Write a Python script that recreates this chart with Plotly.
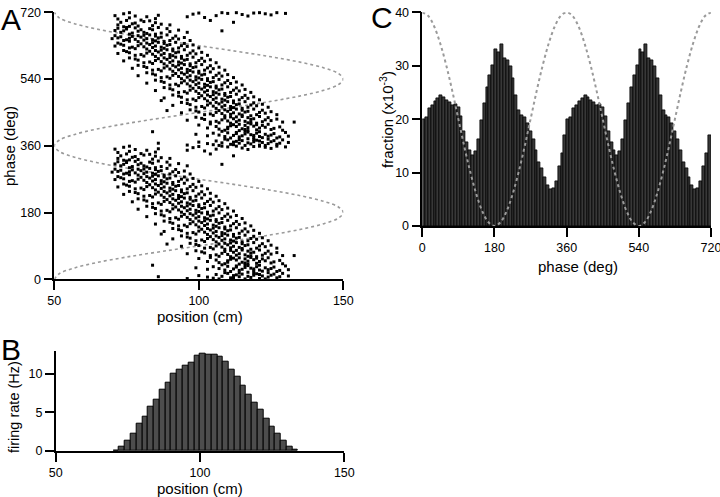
import plotly.graph_objects as go

# ---------------- data ----------------
# Panel A: spikes (position cm, theta phase deg 0-360); drawn at phase and phase+360
spikes = [
    # 0-20
    (112,3),(118,5),(121,2),(108,8),(125,11),(115,14),(119,17),(103,6),(127,4),(110,16),(122,9),(116,1),
    (113,12),(124,18),(106,13),(128,7),(117,19),(100,10),(120,15),(111,4),(126,14),(96,2),(114,7),(123,1),
    (109,18),(131,9),(119,11),(105,3),(117,8),(121,13),(114,17),(107,1),(124,6),(86,7),(129,16),(112,10),
    # 20-40
    (119,23),(111,21),(124,26),(107,29),(116,32),(128,24),(113,36),(121,38),(103,27),(118,30),(126,33),
    (110,35),(122,22),(115,27),(130,36),(108,39),(120,34),(114,24),(125,29),(99,31),(117,37),(112,28),
    (127,21),(105,34),(123,31),(116,39),(109,25),(84,38),(119,28),(131,26),(113,33),(121,25),
    # 40-60
    (114,41),(120,43),(110,46),(125,44),(117,49),(106,52),(122,55),(112,57),(128,51),(115,46),(103,48),
    (119,53),(124,58),(109,42),(116,55),(121,48),(100,56),(126,47),(113,52),(118,59),(107,45),(123,50),
    (111,54),(129,42),(116,44),(104,59),(120,57),(133,64),(110,50),(117,41),(114,58),
    # 60-80
    (111,61),(118,63),(106,66),(122,65),(114,69),(102,71),(119,73),(109,75),(125,68),(113,78),(116,66),
    (99,77),(121,79),(108,70),(117,76),(127,72),(104,64),(112,73),(120,61),(110,67),(96,69),(124,76),
    (115,79),(107,62),(118,71),(129,64),(113,65),(101,74),(123,70),(111,78),(117,62),
    # 80-100
    (109,81),(115,83),(104,86),(120,84),(112,89),(100,91),(117,93),(107,95),(123,88),(111,98),(114,86),
    (97,97),(119,99),(106,90),(115,96),(125,92),(102,84),(110,93),(118,81),(108,87),(94,89),(122,96),
    (113,99),(105,82),(116,91),(127,84),(111,85),(99,94),(121,90),(89,95),(109,97),
    # 100-120
    (106,101),(112,103),(101,106),(117,104),(109,109),(97,111),(114,113),(104,115),(120,108),(108,118),
    (111,106),(94,117),(116,119),(103,110),(112,116),(122,112),(99,104),(107,113),(115,101),(105,107),
    (91,109),(119,116),(110,119),(102,102),(113,111),(124,104),(108,105),(96,114),(118,110),(106,117),
    # 120-140
    (103,121),(109,123),(98,126),(114,124),(106,129),(94,131),(111,133),(101,135),(117,128),(105,138),
    (108,126),(91,137),(113,139),(100,130),(109,136),(119,132),(96,124),(104,133),(112,121),(102,127),
    (88,129),(116,136),(107,139),(99,122),(110,131),(121,124),(105,125),(93,134),(115,130),(103,137),(87,122),
    # 140-160
    (100,141),(106,143),(95,146),(111,144),(103,149),(91,151),(108,153),(98,155),(114,148),(102,158),
    (105,146),(88,157),(110,159),(97,150),(106,156),(116,152),(93,144),(101,153),(109,141),(99,147),
    (85,149),(113,156),(104,159),(96,142),(107,151),(118,144),(102,145),(90,154),(112,150),(100,157),
    # 160-180
    (97,161),(103,163),(92,166),(108,164),(100,169),(88,171),(105,173),(95,175),(111,168),(99,178),
    (102,166),(85,177),(107,179),(94,170),(103,176),(113,172),(90,164),(98,173),(106,161),(96,167),
    (82,169),(110,176),(101,179),(93,162),(104,171),(115,164),(99,165),(87,174),(109,170),(97,177),
    # 180-200
    (94,181),(100,183),(89,186),(105,184),(97,189),(85,191),(102,193),(92,195),(108,188),(96,198),
    (99,186),(82,197),(104,199),(91,190),(100,196),(110,192),(87,184),(95,193),(103,181),(93,187),
    (79,189),(107,196),(98,199),(90,182),(101,191),(112,184),(96,185),(84,194),(106,190),(94,197),
    # 200-220
    (91,201),(97,203),(86,206),(102,204),(94,209),(82,211),(99,213),(89,215),(105,208),(93,218),
    (96,206),(79,217),(101,219),(88,210),(97,216),(107,212),(84,204),(92,213),(100,201),(90,207),
    (77,209),(104,216),(95,219),(87,202),(98,211),(109,204),(93,205),(81,214),(103,210),(91,217),
    # 220-240
    (88,221),(94,223),(83,226),(99,224),(91,229),(79,231),(96,233),(86,235),(102,228),(90,238),
    (93,226),(76,237),(98,239),(85,230),(94,236),(104,232),(81,224),(89,233),(97,221),(87,227),
    (74,229),(101,236),(92,239),(84,222),(95,231),(106,224),(90,225),(78,234),(100,230),(88,237),
    # 240-260
    (85,241),(91,243),(80,246),(96,244),(88,249),(76,251),(93,253),(83,255),(99,248),(87,258),
    (90,246),(74,257),(95,259),(82,250),(91,256),(101,252),(78,244),(86,253),(94,241),(84,247),
    (72,249),(98,256),(89,259),(81,242),(92,251),(103,244),(87,245),(75,254),(97,250),(85,257),
    # 260-280
    (82,261),(88,263),(77,266),(93,264),(85,269),(74,271),(90,273),(80,275),(96,268),(84,278),
    (87,266),(72,277),(92,279),(79,270),(88,276),(98,272),(76,264),(83,273),(91,261),(81,267),
    (71,269),(95,276),(86,279),(78,262),(89,271),(100,264),(84,265),(73,274),(94,270),(82,277),
    # 280-300
    (79,281),(85,283),(75,286),(90,284),(82,289),(72,291),(87,293),(77,295),(93,288),(81,298),
    (84,286),(71,297),(89,299),(76,290),(85,296),(95,292),(74,284),(80,293),(88,281),(78,287),
    (70,289),(92,296),(83,299),(76,282),(86,291),(97,284),(81,285),(73,294),(91,290),(79,297),
    # 300-320
    (76,301),(82,303),(73,306),(87,304),(79,309),(71,311),(84,313),(75,315),(90,308),(78,318),
    (81,306),(72,317),(86,319),(74,310),(83,316),(93,312),(77,304),(80,313),(108,310),(85,301),
    (75,319),(89,316),(96,306),
    # 320-340
    (74,321),(79,323),(72,326),(84,324),(77,329),(73,333),(81,335),(75,338),(87,328),(78,331),
    (83,337),(90,326),(76,322),(80,339),(112,333),(104,338),(85,332),
    # 340-360
    (72,342),(76,345),(71,351),(82,348),(74,356),(85,343),(78,350),(76,359),(86,352),(102,346),
    (98,355),(106,351),(110,357),(115,354),(119,358),(123,356),(127,359),(108,359),(117,350),
    (113,359),(125,353),(100,358),(130,357),(121,359),(96,348),
]
spike_pos = [p for p, _ in spikes]
spike_phase = [ph for _, ph in spikes]

# Panel A dotted reference curve, sampled every 15 deg over one cycle
curve_phase = [0, 15, 30, 45, 60, 75, 90, 105, 120, 135, 150, 165, 180,
               195, 210, 225, 240, 255, 270, 285, 300, 315, 330, 345, 360]
curve_pos = [50, 51.7, 56.7, 64.6, 75, 87.1, 100, 112.9, 125, 135.4, 143.3, 148.3, 150,
             148.3, 143.3, 135.4, 125, 112.9, 100, 87.1, 75, 64.6, 56.7, 51.7, 50]

# Panel B: firing rate per 2-cm position bin (70..134 cm)
rate_bin_centers = list(range(71, 134, 2))
rate_hz = [0.1, 0.6, 1.3, 2.2, 3.5, 4.5, 5.7, 6.6, 8.0, 8.9, 10.0, 10.6, 11.1, 11.4, 12.3, 12.6,
           12.5, 12.5, 12.2, 11.6, 10.6, 9.6, 8.5, 7.3, 6.3, 5.3, 4.2, 3.2, 2.2, 1.3, 0.6, 0.15]

# Panel C: fraction (x10^-3) per 7.2-deg phase bin over 0-720 deg
phase_bin_width = 7.2
fraction = [
    20.0, 20.3, 22.0, 22.6, 23.3, 23.9, 24.4, 24.1, 23.5, 23.2, 22.6, 22.7, 22.2, 20.5, 17.8, 15.6, 14.2,
    13.3, 14.0, 16.3, 19.8, 23.0, 26.0, 28.3, 30.1, 33.1, 32.6, 34.1, 31.4, 31.1, 29.8, 27.6, 24.4, 21.6,
    20.8, 20.3, 19.3, 17.8, 16.2, 14.2, 12.0, 10.8, 9.1, 7.7, 6.9, 7.0, 8.4, 11.2, 13.6, 17.0,
    20.0, 20.3, 22.0, 22.6, 23.3, 23.9, 24.4, 24.1, 23.5, 23.2, 22.6, 22.7, 22.2, 20.5, 17.8, 15.6, 14.2,
    13.3, 14.0, 16.3, 19.8, 23.0, 26.0, 28.3, 30.1, 33.1, 32.6, 34.1, 31.4, 31.1, 29.8, 27.6, 24.4, 21.6,
    20.8, 20.3, 19.3, 17.8, 16.2, 14.2, 12.0, 10.8, 9.1, 7.7, 6.9, 7.0, 8.4, 11.2, 13.6, 17.0,
]
phase_bin_centers = [phase_bin_width * (k + 0.5) for k in range(len(fraction))]

# Panel C dashed reference curve, sampled every 15 deg over one cycle
ref_phase = curve_phase
ref_fraction = [40, 39.3, 37.3, 34.1, 30, 25.2, 20, 14.8, 10, 5.9, 2.7, 0.7, 0,
                0.7, 2.7, 5.9, 10, 14.8, 20, 25.2, 30, 34.1, 37.3, 39.3, 40]

# ---------------- figure ----------------
W, H = 720, 497
def fx(px):
    return px / W
def fy(py):
    return 1 - py / H

FONT = "Liberation Sans, Arial, Helvetica, sans-serif"

fig = go.Figure()

# Panel A
fig.add_trace(go.Scatter(
    x=curve_pos + curve_pos[1:], y=curve_phase + [p + 360 for p in curve_phase[1:]],
    mode="lines", line=dict(color="#9a9a9a", width=1.6, dash="dot", shape="spline"),
    xaxis="x", yaxis="y", hoverinfo="skip"))
fig.add_trace(go.Scatter(
    x=spike_pos + spike_pos, y=spike_phase + [p + 360 for p in spike_phase],
    mode="markers", marker=dict(color="black", size=3, symbol="square", line=dict(width=0)),
    xaxis="x", yaxis="y", hoverinfo="skip", cliponaxis=False))

# Panel B
fig.add_trace(go.Bar(
    x=rate_bin_centers, y=rate_hz, width=2,
    marker=dict(color="#4d4d4d", line=dict(color="black", width=1)),
    xaxis="x2", yaxis="y2", hoverinfo="skip"))

# Panel C
fig.add_trace(go.Bar(
    x=phase_bin_centers, y=fraction, width=phase_bin_width,
    marker=dict(color="#383838", line=dict(color="black", width=0.8)),
    xaxis="x3", yaxis="y3", hoverinfo="skip"))
fig.add_trace(go.Scatter(
    x=ref_phase + [p + 360 for p in ref_phase[1:]], y=ref_fraction + ref_fraction[1:],
    mode="lines", line=dict(color="#9a9a9a", width=2, dash="3px,3px", shape="spline"),
    xaxis="x3", yaxis="y3", hoverinfo="skip"))

axis_common = dict(showline=True, linecolor="black", linewidth=1.5, ticks="outside", ticklen=9,
                   tickwidth=1.5, tickcolor="black", showgrid=False, zeroline=False, automargin=False,
                   ticklabeloverflow="allow",
                   tickfont=dict(family=FONT, size=12.5, color="black"), fixedrange=True)

fig.update_layout(
    width=W, height=H, margin=dict(l=0, r=0, t=0, b=0, autoexpand=False),
    paper_bgcolor="white", plot_bgcolor="white", showlegend=False, bargap=0,
    xaxis=dict(axis_common, domain=[fx(54.3), fx(343.3)], range=[50, 150], tickvals=[50, 100, 150], anchor="y"),
    yaxis=dict(axis_common, domain=[fy(279.3), fy(12.3)], range=[0, 720],
               tickvals=[0, 180, 360, 540, 720], anchor="x"),
    xaxis2=dict(axis_common, domain=[fx(55.7), fx(344.3)], range=[50, 150], tickvals=[50, 100, 150], anchor="y2"),
    yaxis2=dict(axis_common, domain=[fy(451), fy(350.7)], range=[0, 13], tickvals=[0, 5, 10], anchor="x2"),
    xaxis3=dict(axis_common, domain=[fx(422.3), fx(711)], range=[0, 720],
                tickvals=[0, 180, 360, 540, 720], anchor="y3"),
    yaxis3=dict(axis_common, domain=[fy(226), fy(12.3)], range=[0, 40],
                tickvals=[0, 10, 20, 30, 40], anchor="x3"),
)

def label(text, x, y, size=15, angle=0):
    fig.add_annotation(text=text, x=fx(x), y=fy(y), xref="paper", yref="paper",
                       xanchor="center", yanchor="middle", showarrow=False, textangle=angle,
                       font=dict(family=FONT, size=size, color="black"))

label("position (cm)", 200, 316)
label("phase (deg)", 10, 146, angle=-90)
label("position (cm)", 200, 488)
label("firing rate (Hz)", 14, 407, size=14.5, angle=-90)
label("phase (deg)", 578, 266)
label("fraction (x10<sup>-3</sup>)", 386, 120, angle=-90)

label("A", 11, 19, size=30)
label("B", 11, 349, size=30)
label("C", 382, 17, size=30)

fig.write_html("out.html", config={"displayModeBar": False},
               post_script="document.body.style.margin='0px';document.body.style.overflow='hidden';")
